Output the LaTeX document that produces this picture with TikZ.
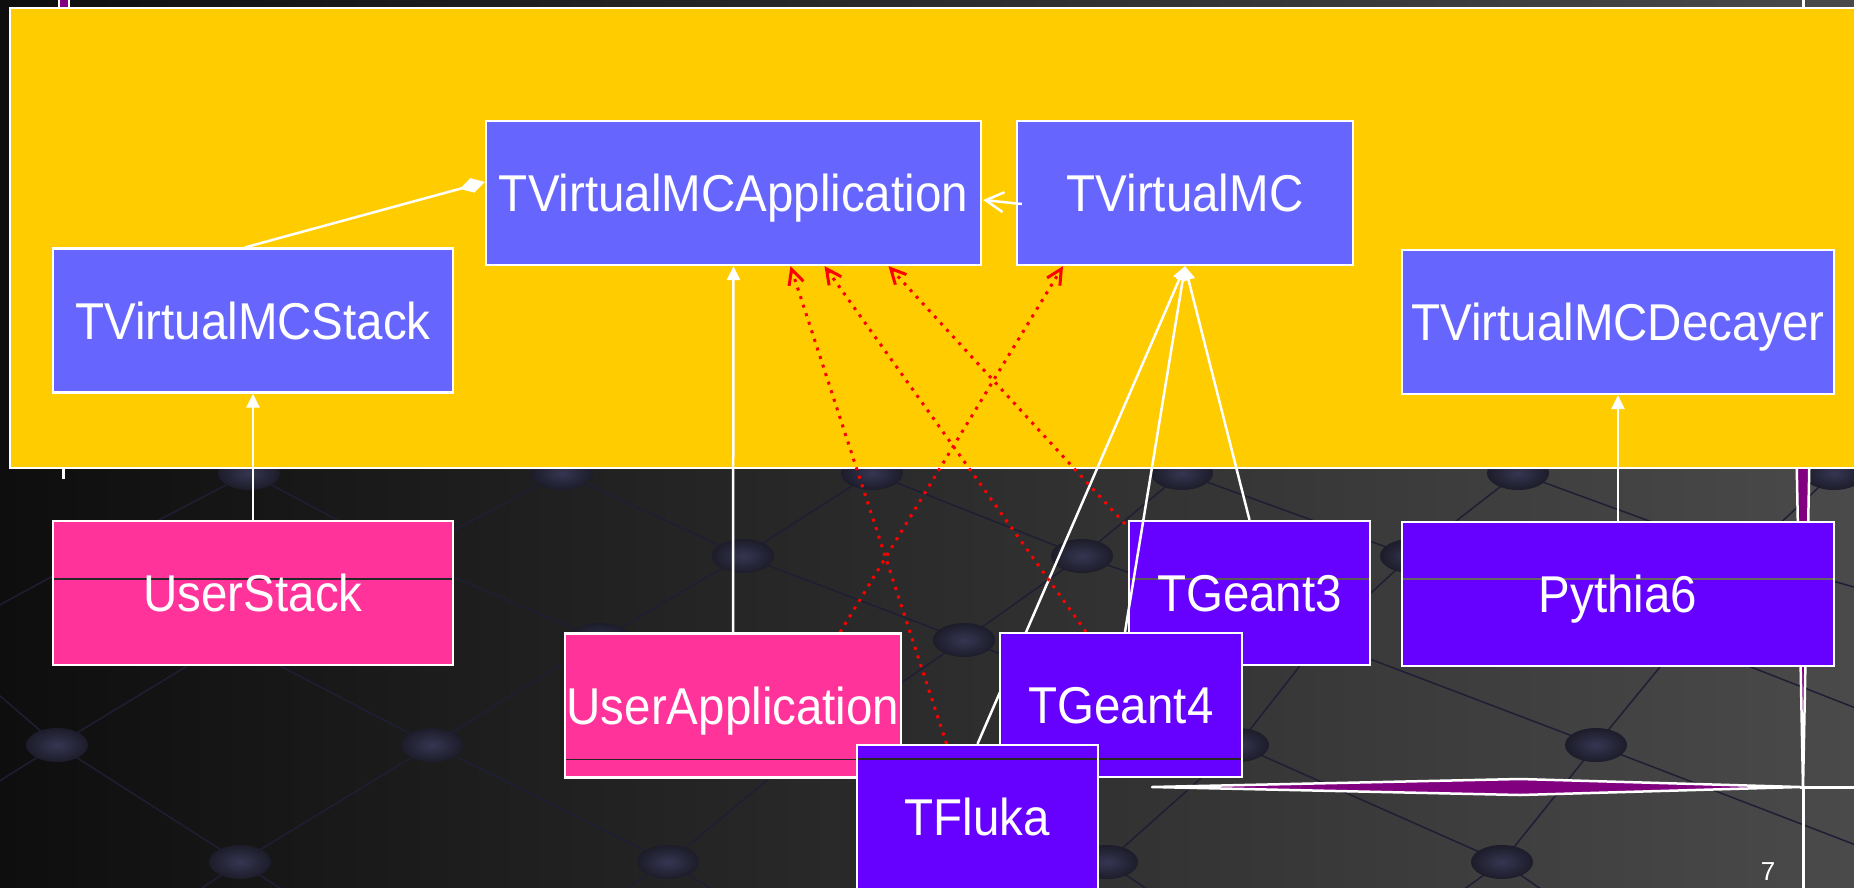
\documentclass[tikz,border=0pt]{standalone}
\usepackage{fontspec}
\setmainfont{Liberation Sans}
\newfontfamily\boxfam[FakeStretch=0.917]{Liberation Sans}
\usetikzlibrary{arrows.meta,calc}
\definecolor{ylw}{HTML}{FFCC00}
\definecolor{bluebox}{HTML}{6666FF}
\definecolor{pinkbox}{HTML}{FF3399}
\definecolor{violetbox}{HTML}{6600FF}
\definecolor{redline}{HTML}{FF0000}
\definecolor{sparkle}{HTML}{800080}
\definecolor{ballIn}{HTML}{363652}
\definecolor{ballOut}{HTML}{1C1C2A}
\definecolor{latt}{HTML}{1E1E34}
\definecolor{bgL}{HTML}{0E0E0E}
\definecolor{bgM}{HTML}{2C2C2C}
\definecolor{bgR}{HTML}{4A4A4A}
\newcommand\boxfont{\boxfam\fontsize{51.8}{60}\selectfont}
\pgfdeclarelayer{backlayer}
\pgfdeclarelayer{connlayer}
\pgfsetlayers{backlayer,connlayer,main}
\begin{document}
\begin{tikzpicture}[x=1pt,y=-1pt,
  cls/.style={draw=white, line width=2.2pt, text=white, minimum width=#1,
    minimum height=144pt, inner sep=0pt, font=\boxfont,
    text height=37pt, text depth=0pt},
  bluecls/.style={cls=#1, fill=bluebox},
  pinkcls/.style={cls=#1, fill=pinkbox},
  violetcls/.style={cls=#1, fill=violetbox},
  compart/.style 2 args={path picture={
    \draw[draw=#2, line width=1.3pt]
      ($(path picture bounding box.north west)+(0,#1)$) --
      ($(path picture bounding box.north east)+(0,#1)$);}},
  wline/.style={draw=white, line width=2.5pt},
  gen/.style={wline, -{Triangle[length=14pt,width=13pt]}},
  dep/.style={draw=redline, line width=3pt, dash pattern=on 3pt off 6pt,
    -{Straight Barb[length=15pt,width=15pt]}},
  lattline/.style={draw=latt, line width=1.5pt},
  ballshade/.style={inner color=ballIn, outer color=ballOut},
  sparkray/.style={fill=sparkle, draw=white, line width=2.5pt, line join=round}
]
\useasboundingbox (0,0) rectangle (1854,887);
\begin{pgfonlayer}{backlayer}
% background
\shade[left color=bgL, middle color=bgM, right color=bgR] (0,0) rectangle (1854,887);
% lattice lines
\foreach \xa/\ya/\xb/\yb in {
  249/473/90/556, 249/473/405/556, 562/473/405/556, 562/473/743/556,
  872/473/743/556, 872/473/1082/556, 1182/473/1082/556, 1182/473/1411/556,
  1518/473/1411/556, 1518/473/1745/556, 1834/473/1745/556, 1834/473/2000/556,
  90/556/-65/640, 90/556/230/640, 405/556/230/640, 405/556/600/640,
  743/556/600/640, 743/556/964/640, 1082/556/964/640, 1082/556/1320/640,
  1411/556/1320/640, 1411/556/1682/640, 1745/556/1682/640, 1745/556/2040/640,
  -65/640/57/745, 230/640/57/745, 230/640/432/745, 600/640/432/745,
  600/640/810/745, 964/640/810/745, 964/640/1238/745, 1320/640/1238/745,
  1320/640/1596/745, 1682/640/1596/745, 1682/640/1950/745,
  57/745/-130/862, 57/745/240/862, 432/745/240/862, 432/745/668/862,
  810/745/668/862, 810/745/1107/862, 1238/745/1107/862, 1238/745/1502/862,
  1596/745/1502/862, 1596/745/1900/862,
  240/862/40/1000, 240/862/450/1000, 668/862/450/1000, 668/862/890/1000,
  1107/862/890/1000, 1107/862/1310/1000, 1502/862/1310/1000, 1502/862/1700/1000,
  1900/862/1700/1000}
  \draw[lattline] (\xa,\ya) -- (\xb,\yb);
% balls
\foreach \x/\y in {249/473, 562/473, 872/473, 1182/473, 1518/473, 1834/473,
  405/556, 743/556, 1082/556, 1411/556, 1745/556,
  230/640, 600/640, 964/640, 1320/640, 1682/640,
  57/745, 432/745, 810/745, 1238/745, 1596/745,
  240/862, 668/862, 1107/862, 1502/862}
  \shade[ballshade] (\x,\y) ellipse [x radius=31pt, y radius=17pt];
% slide decorations
\filldraw[sparkray] (1796,430) -- (1810,430) -- (1803,788) -- cycle;
\draw[wline, line width=3pt] (1803,788) -- (1803,890);
\filldraw[sparkray] (1152,787) -- (1520,779) -- (1800,787) -- (1520,795) -- cycle;
\draw[wline, line width=3pt] (1800,787) -- (1860,787);
\filldraw[sparkray] (59,-5) rectangle (69,9);
\draw[wline, line width=3pt] (63,460) -- (63,479);
\draw[wline, line width=3pt] (1803,-2) -- (1803,10);
% package frame
\filldraw[draw=white, line width=2.5pt, fill=ylw] (10,8) rectangle (1870,468);
% interface classes
\node[bluecls=495pt] (app) at (733.5,193) {TVirtualMCApplication};
\node[bluecls=336pt] (vmc) at (1185,193) {TVirtualMC};
\node[bluecls=400pt] (stack) at (253,320.5) {TVirtualMCStack};
\node[bluecls=432pt] (decayer) at (1618,322) {TVirtualMCDecayer};
% lower classes (back layer)
\node[pinkcls=400pt, compart={58}{black!85}] (ustack) at (253,593) {UserStack};
\node[violetcls=432pt, compart={57}{black!60}] (pythia) at (1618,594) {Pythia6};
\node[violetcls=241pt, compart={58}{black!65}] (g3) at (1249.5,593) {TGeant3};
\end{pgfonlayer}
% lower classes (front layer)
\node[violetcls=242pt, compart={126}{black!85}] (g4) at (1121,705) {TGeant4};
\node[pinkcls=336pt, compart={126}{black!85}] (uapp) at (733,705.5) {UserApplication};
\node[violetcls=241pt, compart={14}{black!85}] (fluka) at (977.5,817) {TFluka};
% connectors
\begin{pgfonlayer}{connlayer}
\draw[wline, -{Diamond[length=26pt,width=15pt]}] ($(stack.north)+(-8,0)$) -- ($(app.west)+(0,-11)$);
\draw[wline, -{Straight Barb[length=18pt,width=20pt]}] ($(vmc.west)+(6,11)$) -- ($(app.east)+(1,7)$);
\draw[gen] (ustack.north) -- (stack.south);
\draw[gen] (uapp.north) -- (app.south);
\draw[gen] (pythia.north) -- (decayer.south);
\draw[gen] (g3.north) -- (vmc.south);
\draw[gen] (fluka.north) -- (vmc.south);
\draw[gen] ($(g4.north)+(4,0)$) -- (vmc.south);
\draw[dep] ($(fluka.north)+(-31,0)$) -- ($(app.south)+(57,0)$);
\draw[dep] ($(g4.north)+(-35,0)$) -- ($(app.south)+(91,0)$);
\draw[dep] ($(g3.north west)+(-3,4)$) -- ($(app.south)+(155,0)$);
\draw[dep] ($(uapp.north)+(107,0)$) -- ($(vmc.south)+(-122,0)$);
\end{pgfonlayer}
% page number
\node[text=white, font=\fontsize{26}{28}\selectfont, anchor=north, inner sep=0pt] (pnum) at (1768,862) {7};
\end{tikzpicture}
\end{document}
